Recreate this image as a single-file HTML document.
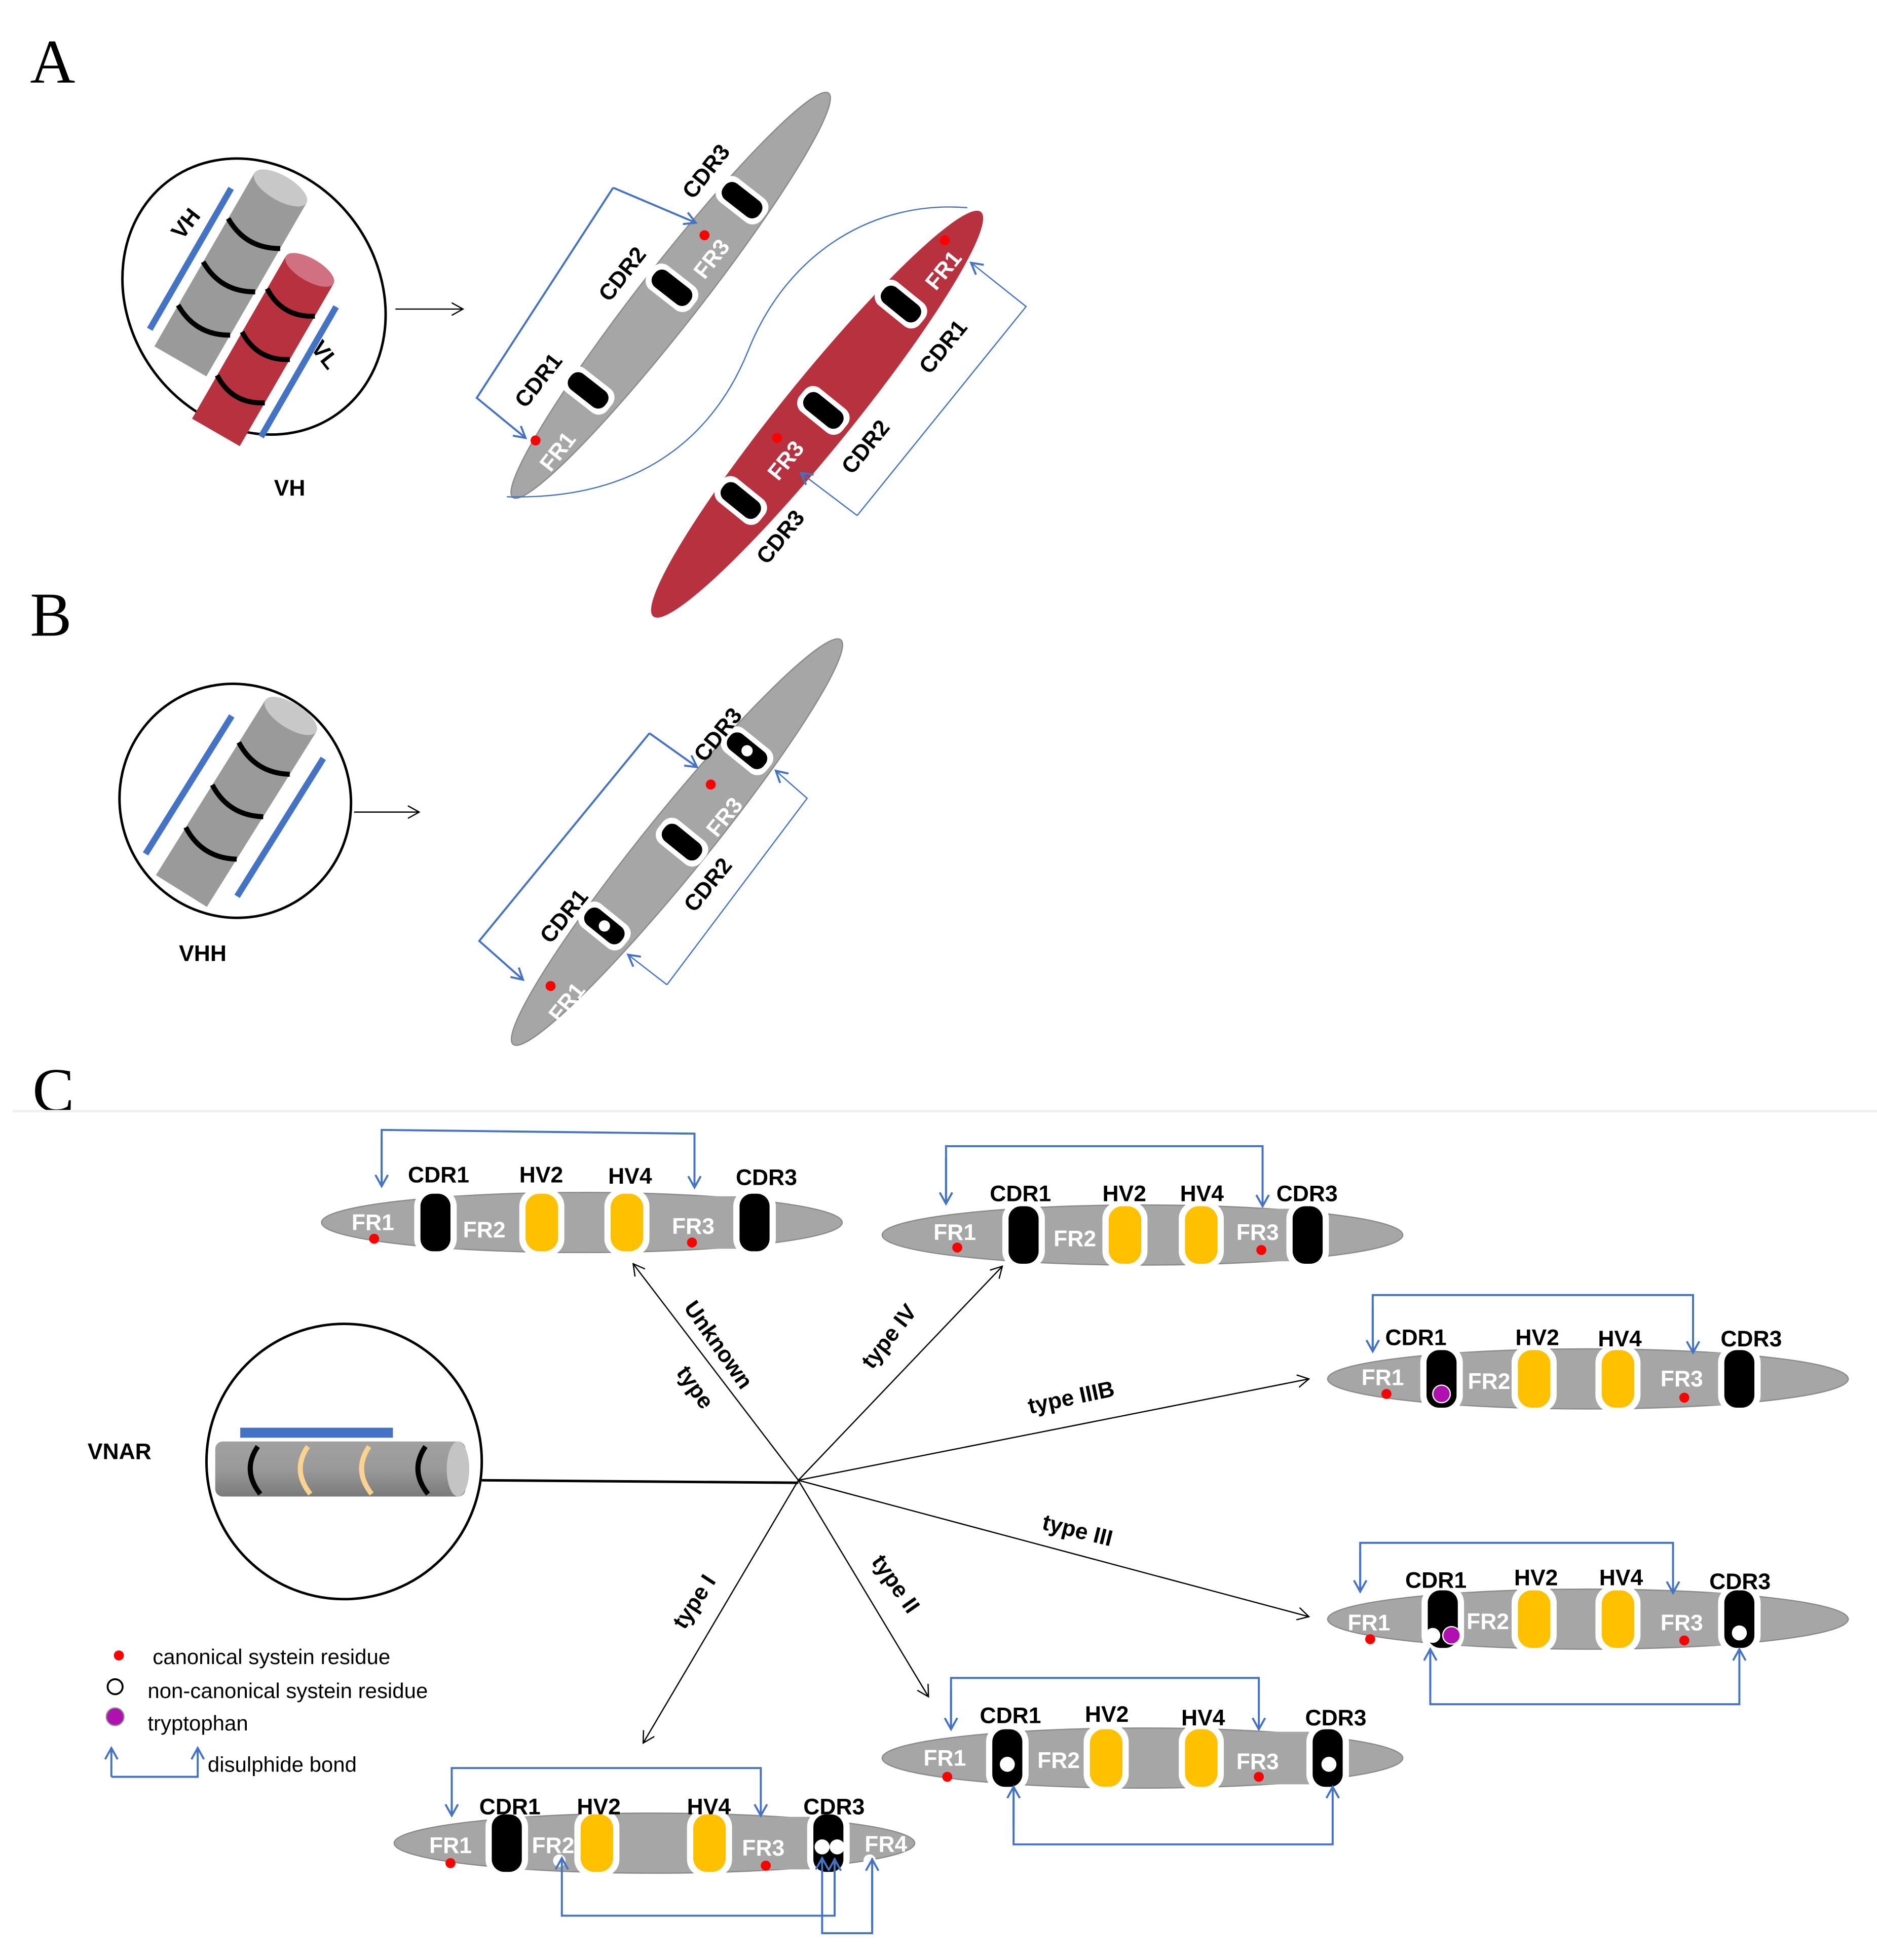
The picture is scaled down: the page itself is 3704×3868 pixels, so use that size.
<!DOCTYPE html>
<html><head><meta charset="utf-8"><style>
html,body{margin:0;padding:0;background:#fff}
svg{display:block}
text{font-family:"Liberation Sans",sans-serif}
.b{font-weight:bold;font-size:18px;fill:#000}
.w{font-weight:bold;font-size:18px;fill:#fff}
.big{font-family:"Liberation Serif",serif;font-size:50px}
.lg{font-size:17px;fill:#000}
.bl{stroke:#4472c4;fill:none;stroke-width:1.6}
.bt{stroke:#4472c4;fill:none;stroke-width:1}
.k{stroke:#000;fill:none;stroke-width:1}
</style></head><body>
<svg width="3704" height="3868" viewBox="0 0 1500 1566.4" preserveAspectRatio="none" xmlns="http://www.w3.org/2000/svg">
<defs>
<marker id="ab" markerWidth="12" markerHeight="12" refX="10" refY="6" orient="auto" markerUnits="userSpaceOnUse"><path d="M1,1 L10,6 L1,11" fill="none" stroke="#4472c4" stroke-width="1.6"/></marker>
<marker id="ak" markerWidth="12" markerHeight="12" refX="10" refY="6" orient="auto" markerUnits="userSpaceOnUse"><path d="M1,1 L10,6 L1,11" fill="none" stroke="#000" stroke-width="1"/></marker>
<g id="sk"><rect x="-17" y="-27" width="34" height="54" rx="14" fill="#fff"/><rect x="-12" y="-23" width="24" height="46" rx="10" fill="#000"/></g>
<g id="sy"><rect x="-18" y="-27" width="36" height="54" rx="14" fill="#fff"/><rect x="-13" y="-23" width="26" height="46" rx="11" fill="#ffc000"/></g>
<g id="dk"><rect x="-12" y="-22" width="24" height="44" rx="9" fill="#fff"/><rect x="-8" y="-18" width="16" height="36" rx="7" fill="#000"/></g>
<linearGradient id="cg" x1="0" y1="0" x2="0" y2="1"><stop offset="0" stop-color="#a0a0a0"/><stop offset=".5" stop-color="#9a9a9a"/><stop offset="1" stop-color="#7a7a7a"/></linearGradient>
</defs>

<text x="24" y="66" class="big">A</text>
<text x="24" y="508" class="big">B</text>
<text x="26" y="888" class="big">C</text>
<line x1="10" y1="888" x2="1500" y2="888" stroke="#f0f0f0" stroke-width="2"/>

<!-- ===== Panel A ===== -->
<ellipse cx="203" cy="237" rx="100" ry="115" transform="rotate(-35 203 237)" fill="none" stroke="#000" stroke-width="2"/>
<g transform="rotate(30 185 220)">
<rect x="160" y="140" width="48" height="160" fill="#9a9a9a"/>
<ellipse cx="184" cy="140" rx="24" ry="10" fill="#c8c8c8"/>
<rect x="215" y="185" width="44" height="150" fill="#b8313f"/>
<ellipse cx="237" cy="185" rx="22" ry="9" fill="#d07080"/>
<line x1="150" y1="160" x2="150" y2="290" stroke="#4472c4" stroke-width="5"/>
<line x1="270" y1="200" x2="270" y2="320" stroke="#4472c4" stroke-width="5"/>
<path d="M160,182 Q184,196 208,182 M160,222 Q184,236 208,222 M160,262 Q184,276 208,262" stroke="#000" stroke-width="4" fill="none"/>
<path d="M215,215 Q237,229 259,215 M215,255 Q237,269 259,255 M215,295 Q237,309 259,295" stroke="#000" stroke-width="4" fill="none"/>
</g>
<text x="140" y="195" class="b" font-size="22" transform="rotate(-52 140 188)">VH</text>
<text x="248" y="292" class="b" font-size="22" transform="rotate(52 262 285)">VL</text>
<text x="219" y="396" class="b" font-size="22">VH</text>
<line x1="316" y1="247" x2="370" y2="247" class="k" marker-end="url(#ak)"/>

<ellipse cx="536" cy="236" rx="205" ry="24" transform="rotate(-52 536 236)" fill="#a6a6a6" stroke="#8a8a8a"/>
<g transform="translate(470,312) rotate(-52)"><use href="#dk"/></g>
<g transform="translate(537,230) rotate(-52)"><use href="#dk"/></g>
<g transform="translate(593,160) rotate(-52)"><use href="#dk"/></g>
<text class="b" font-size="25" transform="translate(420,327) rotate(-52)">CDR1</text>
<text class="b" font-size="25" transform="translate(487,242) rotate(-52)">CDR2</text>
<text class="b" font-size="25" transform="translate(554,160) rotate(-52)">CDR3</text>
<text class="w" font-size="23" transform="translate(440,378) rotate(-52)">FR1</text>
<text class="w" font-size="23" transform="translate(563,224) rotate(-52)">FR3</text>
<circle cx="428" cy="352" r="4" fill="#f00"/><circle cx="563" cy="188" r="4" fill="#f00"/>
<ellipse cx="653" cy="331" rx="208" ry="28" transform="rotate(-51 653 331)" fill="#b8313f"/>
<g transform="translate(720,243) rotate(-51)"><use href="#dk"/></g>
<g transform="translate(658,328) rotate(-51)"><use href="#dk"/></g>
<g transform="translate(592,400) rotate(-51)"><use href="#dk"/></g>
<text class="w" font-size="23" transform="translate(748,233) rotate(-51)">FR1</text>
<text class="w" font-size="23" transform="translate(622,385) rotate(-51)">FR3</text>
<circle cx="755" cy="192" r="4" fill="#f00"/><circle cx="621" cy="350" r="4" fill="#f00"/>
<text class="b" font-size="25" transform="translate(743,300) rotate(-51)">CDR1</text>
<text class="b" font-size="25" transform="translate(681,380) rotate(-51)">CDR2</text>
<text class="b" font-size="25" transform="translate(613,452) rotate(-51)">CDR3</text>
<polyline points="490,150 381,318 420,350" class="bl" marker-end="url(#ab)"/>
<polyline points="490,150 556,178" class="bl" marker-end="url(#ab)"/>
<polyline points="685,412 820,245 776,210" class="bt" marker-end="url(#ab)"/>
<polyline points="685,412 640,378" class="bt" marker-end="url(#ab)"/>
<path d="M405,397 C510,400 570,350 598,280 C630,200 700,160 773,166" class="bt"/>

<!-- ===== Panel B ===== -->
<ellipse cx="188" cy="640" rx="92" ry="94" transform="rotate(-30 188 640)" fill="none" stroke="#000" stroke-width="2"/>
<g transform="rotate(32 190 640)">
<rect x="166" y="560" width="48" height="165" fill="#9a9a9a"/>
<ellipse cx="190" cy="560" rx="24" ry="10" fill="#c8c8c8"/>
<line x1="150" y1="585" x2="150" y2="715" stroke="#4472c4" stroke-width="5"/>
<line x1="230" y1="575" x2="230" y2="705" stroke="#4472c4" stroke-width="5"/>
<path d="M166,600 Q190,614 214,600 M166,640 Q190,654 214,640 M166,680 Q190,694 214,680" stroke="#000" stroke-width="4" fill="none"/>
</g>
<text x="143" y="768" class="b" font-size="22">VHH</text>
<line x1="283" y1="649" x2="335" y2="649" class="k" marker-end="url(#ak)"/>
<ellipse cx="541" cy="673" rx="208" ry="25" transform="rotate(-51 541 673)" fill="#a6a6a6" stroke="#8a8a8a"/>
<g transform="translate(483,740) rotate(-51)"><use href="#dk"/><circle r="4.5" fill="#fff"/></g>
<g transform="translate(545,673) rotate(-51)"><use href="#dk"/></g>
<g transform="translate(597,600) rotate(-51)"><use href="#dk"/><circle r="4.5" fill="#fff"/></g>
<text class="b" font-size="25" transform="translate(440,755) rotate(-51)">CDR1</text>
<text class="b" font-size="25" transform="translate(563,610) rotate(-51)">CDR3</text>
<text class="b" font-size="25" transform="translate(555,730) rotate(-51)">CDR2</text>
<text class="w" font-size="23" transform="translate(447,818) rotate(-51)">FR1</text>
<text class="w" font-size="23" transform="translate(573,670) rotate(-51)">FR3</text>
<circle cx="440" cy="788" r="4" fill="#f00"/><circle cx="568" cy="627" r="4" fill="#f00"/>
<polyline points="519,586 383,752 418,783" class="bl" marker-end="url(#ab)"/>
<polyline points="519,586 557,613" class="bl" marker-end="url(#ab)"/>
<polyline points="533,787 645,638 620,616" class="bt" marker-end="url(#ab)"/>
<polyline points="533,787 502,763" class="bt" marker-end="url(#ab)"/>

<!-- ===== Panel C ===== -->
<text x="70" y="1166" class="b" font-size="18">VNAR</text>
<ellipse cx="275" cy="1168" rx="110" ry="110" fill="none" stroke="#000" stroke-width="2"/>
<rect x="172" y="1152" width="200" height="44" rx="6" fill="url(#cg)"/>
<ellipse cx="366" cy="1174" rx="9" ry="22" fill="#c4c4c4"/>
<rect x="192" y="1141" width="122" height="8" fill="#4472c4"/>
<path d="M206,1156 Q193,1175 208,1194 M340,1156 Q327,1175 342,1194" stroke="#000" stroke-width="4" fill="none"/>
<path d="M246,1156 Q233,1175 248,1194 M295,1156 Q282,1175 297,1194" stroke="#f9d38f" stroke-width="4" fill="none"/>
<line x1="385" y1="1183" x2="638" y2="1185" stroke="#000" stroke-width="2"/>
<g class="k">
<line x1="638" y1="1183" x2="506" y2="1010" marker-end="url(#ak)"/>
<line x1="638" y1="1183" x2="801" y2="1012" marker-end="url(#ak)"/>
<line x1="638" y1="1183" x2="1046" y2="1102" marker-end="url(#ak)"/>
<line x1="638" y1="1183" x2="1046" y2="1292" marker-end="url(#ak)"/>
<line x1="638" y1="1183" x2="742" y2="1356" marker-end="url(#ak)"/>
<line x1="638" y1="1183" x2="514" y2="1393" marker-end="url(#ak)"/>
</g>
<text class="b" font-size="22" transform="translate(546,1045) rotate(55)">Unknown</text>
<text class="b" font-size="22" transform="translate(540,1097) rotate(55)">type</text>
<text class="b" font-size="16" transform="translate(697,1095) rotate(-52)">type IV</text>
<text class="b" font-size="16" transform="translate(823,1130) rotate(-12)">type IIIB</text>
<text class="b" font-size="16" transform="translate(832,1222) rotate(14)">type III</text>
<text class="b" font-size="16" transform="translate(696,1248) rotate(55)">type II</text>
<text class="b" font-size="16" transform="translate(547,1303) rotate(-57)">type I</text>

<ellipse cx="465" cy="977" rx="208" ry="24" fill="#a6a6a6" stroke="#8a8a8a"/>
<rect x="345" y="956" width="260" height="42" fill="#a6a6a6"/>
<use href="#sk" x="348" y="977"/><use href="#sy" x="433" y="977"/><use href="#sy" x="501" y="977"/><use href="#sk" x="603" y="977"/>
<text class="b" x="326" y="945">CDR1</text><text class="b" x="415" y="945">HV2</text><text class="b" x="486" y="946">HV4</text><text class="b" x="588" y="947">CDR3</text>
<text class="w" x="281" y="983">FR1</text><text class="w" x="370" y="989">FR2</text><text class="w" x="537" y="986">FR3</text>
<circle cx="299" cy="990" r="4" fill="#f00"/><circle cx="553" cy="993" r="4" fill="#f00"/>
<polyline points="305,947 305,903 555,906 555,949" class="bl" marker-end="url(#ab)"/><line x1="305" y1="910" x2="305" y2="948" class="bl" marker-end="url(#ab)"/>

<ellipse cx="913" cy="987" rx="208" ry="24" fill="#a6a6a6" stroke="#8a8a8a"/>
<rect x="815" y="966" width="232" height="42" fill="#a6a6a6"/>
<use href="#sk" x="818" y="987"/><use href="#sy" x="899" y="987"/><use href="#sy" x="960" y="987"/><use href="#sk" x="1045" y="987"/>
<text class="b" x="791" y="960">CDR1</text><text class="b" x="881" y="960">HV2</text><text class="b" x="943" y="960">HV4</text><text class="b" x="1020" y="960">CDR3</text>
<text class="w" x="746" y="991">FR1</text><text class="w" x="842" y="996">FR2</text><text class="w" x="988" y="991">FR3</text>
<circle cx="765" cy="997" r="4" fill="#f00"/><circle cx="1008" cy="999" r="4" fill="#f00"/>
<polyline points="756,962 756,916 1009,916 1009,964" class="bl" marker-end="url(#ab)"/><line x1="756" y1="925" x2="756" y2="962" class="bl" marker-end="url(#ab)"/>

<ellipse cx="1269" cy="1102" rx="208" ry="24" fill="#a6a6a6" stroke="#8a8a8a"/>
<rect x="1150" y="1081" width="242" height="42" fill="#a6a6a6"/>
<use href="#sk" x="1152" y="1102"/><use href="#sy" x="1226" y="1102"/><use href="#sy" x="1293" y="1102"/><use href="#sk" x="1390" y="1102"/>
<circle cx="1152" cy="1114" r="7" fill="#b010b0" stroke="#fff" stroke-width="1"/>
<text class="b" x="1107" y="1075">CDR1</text><text class="b" x="1211" y="1075">HV2</text><text class="b" x="1277" y="1076">HV4</text><text class="b" x="1375" y="1076">CDR3</text>
<text class="w" x="1088" y="1107">FR1</text><text class="w" x="1173" y="1110">FR2</text><text class="w" x="1327" y="1108">FR3</text>
<circle cx="1108" cy="1114" r="4" fill="#f00"/><circle cx="1346" cy="1117" r="4" fill="#f00"/>
<polyline points="1097,1080 1097,1035 1353,1035 1353,1081" class="bl" marker-end="url(#ab)"/><line x1="1097" y1="1045" x2="1097" y2="1080" class="bl" marker-end="url(#ab)"/>

<ellipse cx="1269" cy="1294" rx="208" ry="24" fill="#a6a6a6" stroke="#8a8a8a"/>
<rect x="1150" y="1273" width="242" height="42" fill="#a6a6a6"/>
<use href="#sk" x="1153" y="1294"/><use href="#sy" x="1226" y="1294"/><use href="#sy" x="1293" y="1294"/><use href="#sk" x="1390" y="1294"/>
<circle cx="1145" cy="1307" r="6" fill="#fff"/><circle cx="1160" cy="1307" r="7" fill="#b010b0" stroke="#fff"/><circle cx="1390" cy="1305" r="6" fill="#fff"/>
<text class="b" x="1123" y="1269">CDR1</text><text class="b" x="1210" y="1267">HV2</text><text class="b" x="1278" y="1267">HV4</text><text class="b" x="1366" y="1270">CDR3</text>
<text class="w" x="1077" y="1303">FR1</text><text class="w" x="1172" y="1302">FR2</text><text class="w" x="1327" y="1303">FR3</text>
<circle cx="1095" cy="1310" r="4" fill="#f00"/><circle cx="1346" cy="1311" r="4" fill="#f00"/>
<polyline points="1087,1272 1087,1233 1337,1233 1337,1273" class="bl" marker-end="url(#ab)"/><line x1="1087" y1="1240" x2="1087" y2="1272" class="bl" marker-end="url(#ab)"/>
<polyline points="1143,1318 1143,1362 1390,1362 1390,1318" class="bl" marker-end="url(#ab)"/><line x1="1143" y1="1350" x2="1143" y2="1318" class="bl" marker-end="url(#ab)"/>

<ellipse cx="913" cy="1405" rx="208" ry="24" fill="#a6a6a6" stroke="#8a8a8a"/>
<rect x="802" y="1384" width="262" height="42" fill="#a6a6a6"/>
<use href="#sk" x="805" y="1405"/><use href="#sy" x="884" y="1405"/><use href="#sy" x="960" y="1405"/><use href="#sk" x="1061" y="1405"/>
<circle cx="805" cy="1410" r="6" fill="#fff"/><circle cx="1062" cy="1410" r="6" fill="#fff"/>
<text class="b" x="783" y="1377">CDR1</text><text class="b" x="867" y="1376">HV2</text><text class="b" x="944" y="1379">HV4</text><text class="b" x="1043" y="1379">CDR3</text>
<text class="w" x="738" y="1411">FR1</text><text class="w" x="829" y="1413">FR2</text><text class="w" x="988" y="1414">FR3</text>
<circle cx="757" cy="1420" r="4" fill="#f00"/><circle cx="1006" cy="1420" r="4" fill="#f00"/>
<polyline points="760,1382 760,1341 1006,1341 1006,1382" class="bl" marker-end="url(#ab)"/><line x1="760" y1="1350" x2="760" y2="1382" class="bl" marker-end="url(#ab)"/>
<polyline points="810,1428 810,1474 1065,1474 1065,1428" class="bl" marker-end="url(#ab)"/><line x1="810" y1="1460" x2="810" y2="1428" class="bl" marker-end="url(#ab)"/>

<ellipse cx="523" cy="1473" rx="208" ry="24" fill="#a6a6a6" stroke="#8a8a8a"/>
<rect x="402" y="1452" width="270" height="42" fill="#a6a6a6"/>
<use href="#sk" x="405" y="1473"/><use href="#sy" x="477" y="1473"/><use href="#sy" x="567" y="1473"/><use href="#sk" x="662" y="1473"/>
<circle cx="657" cy="1476" r="6" fill="#fff"/><circle cx="669" cy="1476" r="6" fill="#fff"/>
<text class="b" x="383" y="1450">CDR1</text><text class="b" x="461" y="1450">HV2</text><text class="b" x="549" y="1450">HV4</text><text class="b" x="642" y="1450">CDR3</text>
<text class="w" x="343" y="1481">FR1</text><text class="w" x="425" y="1481">FR2</text><text class="w" x="593" y="1483">FR3</text><text class="w" x="691" y="1480">FR4</text>
<circle cx="360" cy="1489" r="4" fill="#f00"/><circle cx="612" cy="1491" r="4" fill="#f00"/>
<circle cx="447" cy="1487" r="5" fill="#fff"/><circle cx="695" cy="1487" r="5" fill="#fff"/>
<polyline points="361,1451 361,1413 608,1413 608,1451" class="bl" marker-end="url(#ab)"/><line x1="361" y1="1420" x2="361" y2="1451" class="bl" marker-end="url(#ab)"/>
<polyline points="667,1485 667,1531 449,1531 449,1485" class="bl" marker-end="url(#ab)"/>
<polyline points="697,1485 697,1545 657,1545 657,1485" class="bl" marker-end="url(#ab)"/>
<line x1="697" y1="1540" x2="697" y2="1486" class="bl" marker-end="url(#ab)"/><line x1="667" y1="1520" x2="667" y2="1486" class="bl" marker-end="url(#ab)"/>

<circle cx="95" cy="1323" r="4" fill="#f00"/><text class="lg" x="122" y="1330">canonical systein residue</text>
<circle cx="92" cy="1348" r="6" fill="none" stroke="#000" stroke-width="1.5"/><text class="lg" x="118" y="1357">non-canonical systein residue</text>
<circle cx="92" cy="1372" r="7" fill="#b010b0" stroke="#888"/><text class="lg" x="118" y="1383">tryptophan</text>
<polyline points="89,1420 158,1420 158,1397" class="bl" marker-end="url(#ab)"/><line x1="89" y1="1420" x2="89" y2="1397" class="bl" marker-end="url(#ab)"/>
<text class="lg" x="166" y="1416">disulphide bond</text>
</svg>
</body></html>
